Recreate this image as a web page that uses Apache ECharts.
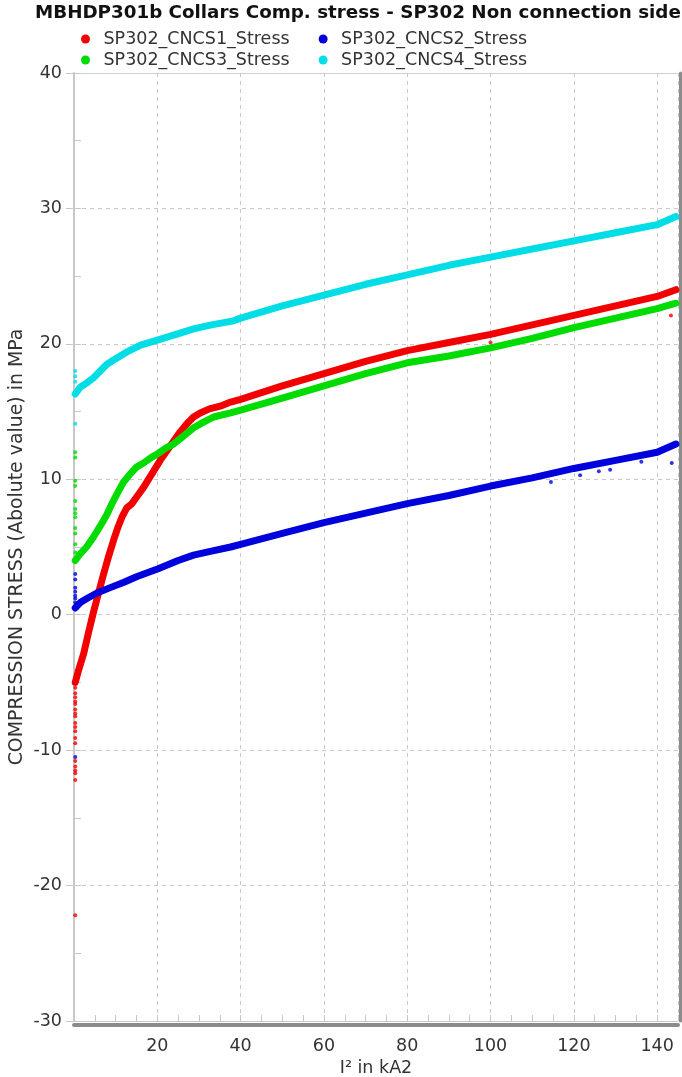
<!DOCTYPE html>
<html><head><meta charset="utf-8">
<script src="https://cdn.jsdelivr.net/npm/echarts@6/dist/echarts.min.js"></script>
<style>html,body{margin:0;padding:0;background:#fff}#c{width:682px;height:1077px}</style>
</head><body><div id="c"></div>
<script>
const titleText = 'MBHDP301b Collars Comp. stress - SP302 Non connection side';
const names = ['SP302_CNCS1_Stress', 'SP302_CNCS2_Stress', 'SP302_CNCS3_Stress', 'SP302_CNCS4_Stress'];
const colors = ['#f20000', '#0000dc', '#00dc00', '#00dde6'];
const xTicks = [20, 40, 60, 80, 100, 120, 140];
const yTicks = [-30, -20, -10, 0, 10, 20, 30, 40];

// main trends [I², stress]
const cncs1 = [[0.3,-5.0],[1,-4.2],[2.3,-2.9],[3.5,-1.3],[4.6,0.1],[5.8,1.5],[7.1,3.0],[8.3,4.3],[9.5,5.5],[10.6,6.5],[11.5,7.2],[12.7,7.9],[13.9,8.2],[15.3,8.8],[16.7,9.4],[18.7,10.4],[20.7,11.4],[22.3,12.1],[23.9,12.8],[25.5,13.5],[27.1,14.1],[28.7,14.6],[30.3,14.9],[32.5,15.2],[35.1,15.4],[37.6,15.7],[40,15.9],[50,16.9],[60,17.8],[70,18.7],[80,19.5],[90,20.1],[100,20.7],[110,21.4],[120,22.1],[130,22.8],[140,23.5],[144.5,24.0]];
const cncs2 = [[0.3,0.5],[1.5,0.9],[3.1,1.2],[5.5,1.6],[8.7,2.0],[12,2.4],[15,2.8],[20.2,3.4],[25,4.0],[28.7,4.4],[33,4.7],[37.6,5.0],[40,5.2],[50,6.0],[60,6.8],[70,7.5],[80,8.2],[90,8.8],[100,9.5],[110,10.1],[120,10.8],[130,11.4],[140,12.0],[144.5,12.6]];
const cncs3 = [[0.3,4.0],[1.5,4.5],[3,5.0],[4.6,5.7],[6.2,6.5],[7.9,7.4],[9.1,8.2],[10.3,8.9],[11.9,9.8],[13.5,10.4],[15,10.9],[16.7,11.2],[18.5,11.6],[20.2,11.9],[22,12.3],[23.9,12.6],[26.3,13.2],[28.7,13.8],[31,14.2],[33.5,14.6],[37.6,14.9],[40,15.1],[50,16.0],[60,16.9],[70,17.8],[80,18.6],[90,19.1],[100,19.7],[110,20.4],[120,21.2],[130,21.9],[140,22.6],[144.5,23.0]];
const cncs4 = [[0.3,16.3],[1.5,16.8],[3,17.1],[4.7,17.5],[6.3,18.0],[7.9,18.5],[10,18.9],[12.7,19.4],[16,19.9],[20.2,20.3],[24.5,20.7],[28.7,21.1],[33,21.4],[38.3,21.7],[40,21.9],[50,22.8],[60,23.6],[70,24.4],[80,25.1],[90,25.8],[100,26.4],[110,27.0],[120,27.6],[130,28.2],[140,28.8],[144.5,29.4]];

// scattered readings (start-up points and outliers)
const cncs1Pts = [[0.3,-5.4],[0.3,-5.8],[0.3,-6.1],[0.3,-6.4],[0.3,-6.6],[0.3,-7.0],[0.3,-7.3],[0.3,-7.5],[0.3,-8.0],[0.3,-8.3],[0.3,-8.6],[0.3,-9.1],[0.3,-9.5],[0.3,-10.8],[0.3,-11.2],[0.3,-11.5],[0.3,-11.7],[0.3,-12.2],[0.3,-22.2],[100,20.1],[143.3,22.1]];
const cncs2Pts = [[0.3,0.9],[0.3,1.2],[0.3,1.4],[0.3,1.7],[0.3,2.0],[0.3,2.6],[0.3,3.0],[0.3,-10.5],[114.5,9.8],[121.5,10.3],[126,10.6],[128.7,10.7],[136.2,11.3],[143.5,11.2]];
const cncs3Pts = [[0.3,4.6],[0.3,5.2],[0.3,6.0],[0.3,6.4],[0.3,7.2],[0.3,7.5],[0.3,7.8],[0.3,8.4],[0.3,9.5],[0.3,9.9],[0.3,11.6],[0.3,12.0]];
const cncs4Pts = [[0.3,17.2],[0.3,17.6],[0.3,18.0],[0.3,14.1]];

const trends = [cncs1, cncs2, cncs3, cncs4];
const points = [cncs1Pts, cncs2Pts, cncs3Pts, cncs4Pts];

const FONT = 'DejaVu Sans';
const gridGray = '#c8c8c8';
const chart = echarts.init(document.getElementById('c'), null, {renderer: 'canvas'});

const series = [];
names.forEach((n, i) => {
  series.push({
    name: n, type: 'line', data: trends[i], showSymbol: false, symbol: 'none',
    lineStyle: {color: colors[i], width: 7, cap: 'round', join: 'round'},
    itemStyle: {color: colors[i]}, z: 3 + i, silent: true
  });
  series.push({
    name: n, type: 'scatter', data: points[i], symbolSize: 4,
    itemStyle: {color: colors[i]}, z: 3 + i, silent: true
  });
});

const legendCommon = {
  left: 81, itemWidth: 26, itemHeight: 9, itemGap: 29, icon: 'circle',
  padding: 0, textStyle: {fontFamily: FONT, fontSize: 17.5, color: '#333'}
};

chart.setOption({
  animation: false,
  backgroundColor: '#fff',
  title: {
    text: titleText, left: 35, top: 4, padding: 0,
    textStyle: {fontFamily: FONT, fontSize: 18.3, fontWeight: 'bold', color: '#111'}
  },
  legend: [
    Object.assign({top: 30, data: [names[0], names[1]]}, legendCommon),
    Object.assign({top: 51, data: [names[2], names[3]]}, legendCommon)
  ],
  grid: {left: 74, right: 4, top: 73, bottom: 56, containLabel: false, outerBoundsMode: 'none'},
  xAxis: [
    {
      type: 'value', position: 'bottom', min: 0, max: 145, interval: 20,
      name: 'I² in kA2', nameLocation: 'middle', nameGap: 38, nameMoveOverlap: false,
      nameTextStyle: {fontFamily: FONT, fontSize: 17.5, color: '#333'},
      axisLine: {show: true, onZero: false, lineStyle: {color: gridGray, width: 1}},
      axisTick: {show: true, inside: true, length: 6, lineStyle: {color: gridGray}},
      minorTick: {show: true, splitNumber: 4, length: 6, lineStyle: {color: gridGray}},
      axisLabel: {
        fontFamily: FONT, fontSize: 17.5, color: '#333', margin: 16,
        showMinLabel: false, showMaxLabel: false,
        formatter: v => (xTicks.indexOf(v) >= 0 ? String(v) : '')
      },
      splitLine: {show: true, lineStyle: {color: gridGray, type: [4, 4], width: 1}}
    },
    {
      type: 'value', position: 'top', min: 0, max: 145,
      axisLine: {show: true, onZero: false, lineStyle: {color: '#d0d0d0', width: 1}},
      axisTick: {show: false}, axisLabel: {show: false}, splitLine: {show: false}
    },
    {
      type: 'value', position: 'bottom', offset: 4, min: 0, max: 145,
      axisLine: {show: true, onZero: false, lineStyle: {color: '#8c8c8c', width: 4}},
      axisTick: {show: false}, axisLabel: {show: false}, splitLine: {show: false}
    }
  ],
  yAxis: [
    {
      type: 'value', position: 'left', min: -30, max: 40, interval: 10,
      name: 'COMPRESSION STRESS (Abolute value) in MPa', nameLocation: 'middle', nameGap: 47,
      nameMoveOverlap: false,
      nameTextStyle: {fontFamily: FONT, fontSize: 18.9, color: '#333'},
      axisLine: {show: true, onZero: false, lineStyle: {color: gridGray, width: 2}},
      axisTick: {show: true, inside: false, length: 8, lineStyle: {color: gridGray}},
      axisLabel: {
        fontFamily: FONT, fontSize: 17.5, color: '#333', margin: 12,
        formatter: v => (yTicks.indexOf(v) >= 0 ? String(v) : '')
      },
      splitLine: {show: true, lineStyle: {color: gridGray, type: [4, 4], width: 1}}
    },
    {
      type: 'value', position: 'left', min: -30, max: 40, interval: 5,
      axisLine: {show: false},
      axisTick: {show: true, inside: true, length: 7, lineStyle: {color: gridGray}},
      axisLabel: {show: false}, splitLine: {show: false}
    },
    {
      type: 'value', position: 'right', offset: 2, min: -30, max: 40,
      axisLine: {show: true, onZero: false, lineStyle: {color: '#8c8c8c', width: 3}},
      axisTick: {show: false}, axisLabel: {show: false}, splitLine: {show: false}
    }
  ],
  series: series
});
</script>
</body></html>
